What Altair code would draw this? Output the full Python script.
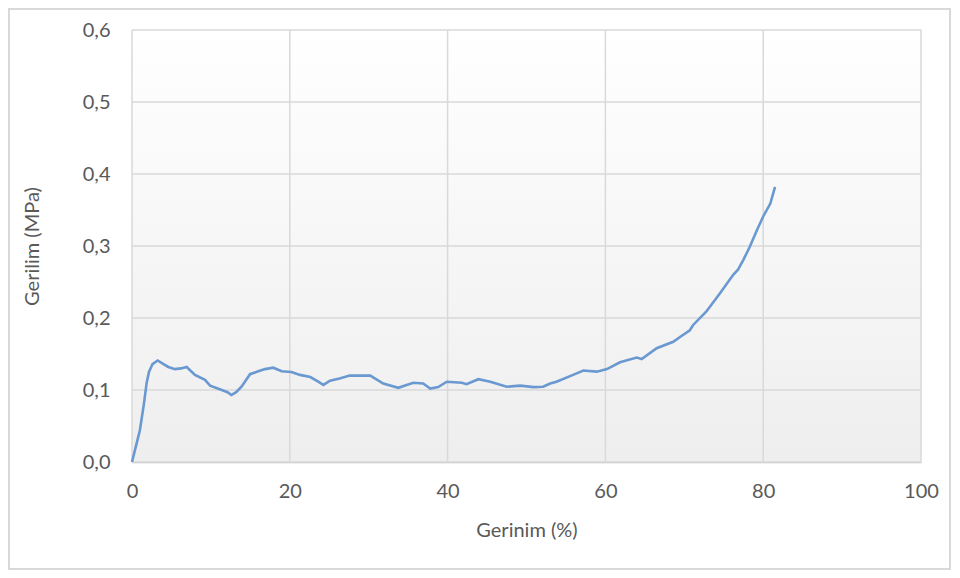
import altair as alt
import pandas as pd

# Curve
strain = [0, 0.5, 1.0, 1.5, 1.86, 2.15, 2.6, 3.25, 4.0, 4.6, 5.45, 6.2, 6.93, 7.98, 9.25, 9.9,
          11.37, 12.1, 12.6, 13.2, 13.9, 14.96, 16.0, 16.86, 17.9, 18.97, 20.2, 21.3, 22.6,
          23.6, 24.25, 25.1, 26.3, 27.6, 28.9, 30.2, 31.85, 33.75, 35.65, 36.9, 37.8, 38.8,
          39.9, 41.8, 42.4, 43.9, 45.4, 47.5, 49.2, 50.9, 52.1, 53.0, 53.8, 55.9, 57.2, 58.9,
          60.2, 61.85, 63.97, 64.6, 66.5, 68.6, 69.5, 70.7, 71.1, 72.8, 74.5, 76.2, 76.8,
          77.5, 78.3, 79.2, 80.0, 80.9, 81.5]
stress = [0, 0.022, 0.044, 0.08, 0.11, 0.125, 0.136, 0.141, 0.136, 0.132, 0.129, 0.13, 0.132,
          0.121, 0.114, 0.106, 0.10, 0.097, 0.093, 0.097, 0.105, 0.122, 0.126, 0.129, 0.131,
          0.126, 0.125, 0.121, 0.118, 0.1115, 0.107, 0.113, 0.116, 0.12, 0.12, 0.12, 0.109,
          0.103, 0.110, 0.109, 0.102, 0.104, 0.1115, 0.110, 0.108, 0.115, 0.1115, 0.1046,
          0.106, 0.104, 0.1046, 0.109, 0.1115, 0.121, 0.127, 0.1255, 0.129, 0.1385, 0.145,
          0.143, 0.158, 0.167, 0.174, 0.183, 0.19, 0.209, 0.234, 0.26, 0.267, 0.281, 0.299,
          0.322, 0.341, 0.359, 0.382]

x_ticks = [0, 20, 40, 60, 80, 100]
y_ticks = [0.0, 0.1, 0.2, 0.3, 0.4, 0.5, 0.6]

W, H = 789, 432
FONT = "Lato"
TXT = "#595959"
GRID = "#d9d9d9"

df = pd.DataFrame({"x": strain, "y": stress})
gx = pd.DataFrame({"x": x_ticks})
gy = pd.DataFrame({"y": y_ticks})

xs = alt.Scale(domain=[0, 100], nice=False, zero=False)
ys = alt.Scale(domain=[0, 0.6], nice=False, zero=False)

border = alt.Chart(gx).mark_rect(fill=None, stroke="#d9d9d9", strokeWidth=1.5).encode(
    x=alt.value(-123), x2=alt.value(818), y=alt.value(-21), y2=alt.value(539)
)

bg = alt.Chart(gx).mark_rect(
    fill={"gradient": "linear", "x1": 0, "y1": 0, "x2": 0, "y2": 1,
          "stops": [{"offset": 0, "color": "#ffffff"}, {"offset": 1, "color": "#eeeeee"}]}
).encode(x=alt.value(0), x2=alt.value(W), y=alt.value(0), y2=alt.value(H))

vgrid = alt.Chart(gx).mark_rule(color=GRID, strokeWidth=1.5).encode(
    x=alt.X("x:Q", scale=xs, axis=alt.Axis(
        values=x_ticks, title="Gerinim (%)", grid=False, ticks=False,
        domain=True, domainColor="#bfbfbf", domainWidth=1.5, labelFlush=False,
        labelPadding=19, labelFontSize=20, labelColor=TXT, labelFont=FONT,
        titleFont=FONT, titleFontSize=20, titleColor=TXT, titleFontWeight="normal",
        titleY=68, titleBaseline="middle")),
    y=alt.value(0), y2=alt.value(H)
)

hgrid = alt.Chart(gy).mark_rule(color=GRID, strokeWidth=1.5).encode(
    y=alt.Y("y:Q", scale=ys, axis=alt.Axis(
        values=y_ticks, title="Gerilim (MPa)", grid=False, ticks=False, labelFlush=False,
        domain=False, labelPadding=22, labelFontSize=20, labelColor=TXT, labelFont=FONT,
        labelExpr="replace(format(datum.value, '.1f'), '.', ',')",
        titleFont=FONT, titleFontSize=20, titleColor=TXT, titleFontWeight="normal",
        titleX=-100, titleY=H / 2, titleAngle=-90, titleAlign="center",
        titleBaseline="middle")),
    x=alt.value(0), x2=alt.value(W)
)

line = alt.Chart(df).mark_line(color="#6a98d0", strokeWidth=2.6).encode(
    x=alt.X("x:Q", scale=xs),
    y=alt.Y("y:Q", scale=ys),
    order="x:Q",
)

chart = alt.layer(border, bg, vgrid, hgrid, line).properties(
    width=W, height=H,
    autosize=alt.AutoSizeParams(type="none"),
    padding={"left": 124, "top": 22, "right": 31, "bottom": 108},
    background="white",
).configure_view(stroke=None)

chart.save("out.html", embed_options={"renderer": "svg", "actions": False})
